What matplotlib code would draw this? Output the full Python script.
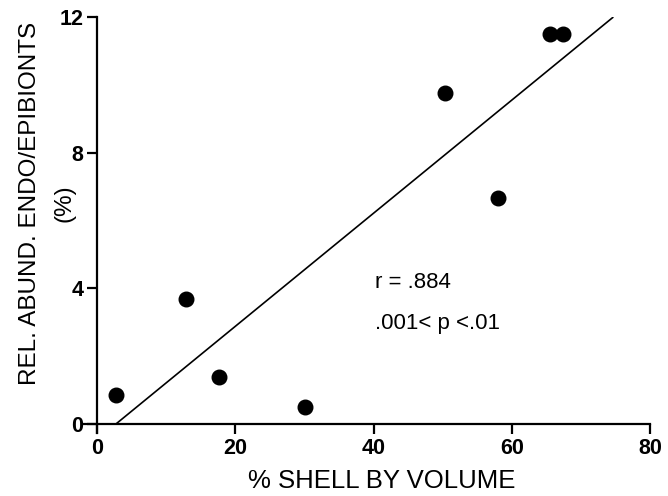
import matplotlib
matplotlib.use("Agg")
import matplotlib.pyplot as plt

# Data
shell_pct = [2.75, 12.9, 17.65, 30.1, 50.3, 58.0, 65.6, 67.4]
rel_abund = [0.85, 3.7, 1.38, 0.51, 9.76, 6.65, 11.5, 11.5]
fit_x = [2.7, 74.7]
fit_y = [0.0, 12.0]
x_ticks = [0, 20, 40, 60, 80]
y_ticks = [0, 4, 8, 12]
annot_r = "r = .884"
annot_p = ".001< p <.01"
ylabel_1 = "REL. ABUND. ENDO/EPIBIONTS"
ylabel_2 = "(%)"
xlabel = "% SHELL BY VOLUME"

plt.rcParams['font.family'] = ['Liberation Sans', 'DejaVu Sans']

fig = plt.figure(figsize=(6.68, 4.96), dpi=100)
ax = fig.add_axes([0.1228, 0.128, 0.973 - 0.1228, 0.9657 - 0.128])

ax.plot(fit_x, fit_y, color='black', lw=1.2, solid_capstyle='butt')
ax.scatter(shell_pct, rel_abund, s=110, color='black', zorder=3, clip_on=False)

ax.set_xlim(-2.2, 80)
ax.set_ylim(-0.25, 12)
ax.spines['left'].set_position(('data', 0))
ax.spines['bottom'].set_position(('data', 0))
ax.spines['right'].set_visible(False)
ax.spines['top'].set_visible(False)
for s in ('left', 'bottom'):
    ax.spines[s].set_linewidth(1.6)

ax.set_xticks(x_ticks)
ax.set_yticks(y_ticks)
ax.set_xticklabels([str(t) for t in x_ticks], fontsize=15.5, fontweight='bold')
ax.set_yticklabels([str(t) for t in y_ticks], fontsize=15.5, fontweight='bold')
ax.tick_params(axis='both', direction='out', length=7, width=1.6, pad=3)

fig.text(0.572, 0.03, xlabel, ha='center', va='center', fontsize=18.5)
fig.text(0.045, 0.59, ylabel_1, ha='center', va='center', rotation=90, fontsize=17.5)
fig.text(0.096, 0.59, ylabel_2, ha='center', va='center', rotation=90, fontsize=17.5)

ax.text(40.2, 4.18, annot_r, fontsize=16, ha='left', va='center')
ax.text(40.2, 2.97, annot_p, fontsize=16, ha='left', va='center')

fig.savefig("out.png", dpi=100)
